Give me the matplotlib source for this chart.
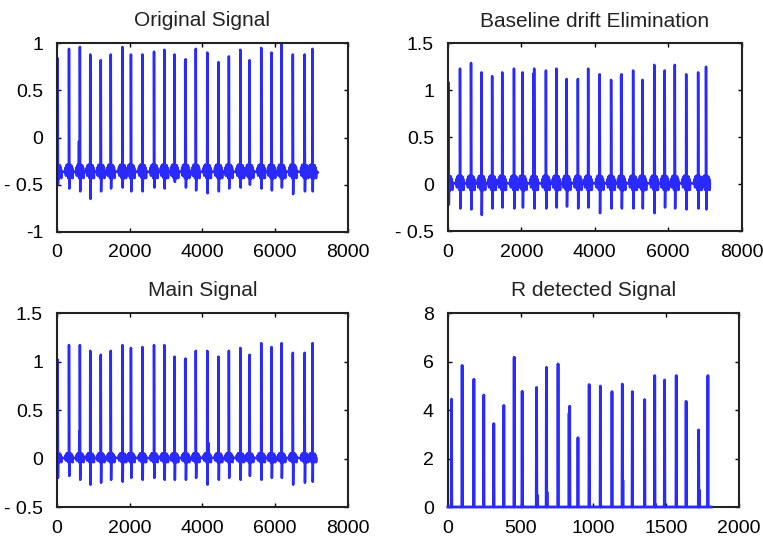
import numpy as np
import matplotlib.pyplot as plt

plt.rcParams['font.family'] = ['Liberation Sans', 'DejaVu Sans']

# R peak sample positions (same recording in the three ECG panels)
r_pos = [18, 330, 630, 915, 1205, 1480, 1800, 2035, 2350, 2670, 2955, 3235, 3540,
         3820, 4135, 4445, 4730, 5045, 5300, 5620, 5905, 6180, 6490, 6815, 7030]

# Original Signal
orig_r = [0.84, 0.94, 0.96, 0.88, 0.82, 0.88, 0.96, 0.88, 0.88, 0.91, 0.93, 0.88, 0.83,
          0.94, 0.90, 0.80, 0.86, 0.93, 0.82, 0.95, 0.90, 1.00, 0.88, 0.88, 0.94]
orig_s = [-0.50, -0.54, -0.57, -0.65, -0.57, -0.54, -0.53, -0.57, -0.57, -0.53, -0.54, -0.47, -0.53,
          -0.56, -0.59, -0.57, -0.54, -0.53, -0.50, -0.54, -0.56, -0.53, -0.60, -0.57, -0.57]
orig_extra = [(605, -0.04), (3528, 0.80)]

# Baseline drift Elimination
drift_r = [1.08, 1.23, 1.29, 1.19, 1.15, 1.19, 1.23, 1.19, 1.23, 1.21, 1.23, 1.12, 1.12,
           1.23, 1.17, 1.11, 1.17, 1.21, 1.11, 1.27, 1.21, 1.27, 1.17, 1.19, 1.25]
drift_s = [-0.22, -0.26, -0.27, -0.33, -0.26, -0.25, -0.26, -0.25, -0.26, -0.26, -0.25, -0.24, -0.26,
           -0.25, -0.31, -0.26, -0.26, -0.26, -0.26, -0.31, -0.25, -0.26, -0.27, -0.26, -0.27]
drift_extra = [(5635, 0.22), (2338, 1.18), (4718, 1.15)]

# Main Signal
main_r = [1.02, 1.17, 1.17, 1.11, 1.07, 1.11, 1.17, 1.14, 1.15, 1.17, 1.17, 1.05, 1.03,
          1.11, 1.11, 1.05, 1.11, 1.14, 1.07, 1.19, 1.15, 1.19, 1.09, 1.09, 1.19]
main_s = [-0.20, -0.18, -0.22, -0.27, -0.25, -0.22, -0.24, -0.20, -0.22, -0.20, -0.22, -0.22, -0.22,
          -0.20, -0.27, -0.22, -0.20, -0.22, -0.18, -0.22, -0.20, -0.20, -0.27, -0.25, -0.24]
main_extra = [(614, 0.28), (4170, 0.16), (3528, 1.02)]

# baseline wiggle around each beat (offset from R, relative level)
wig_off = [-110, -96, -84, -70, -58, -46, -34, -22, -12, 18, 28, 38, 50, 62, 74, 88, 100, 112]
wig_val = [0.0, 0.6, -0.4, 0.9, -0.2, 1.0, 0.3, -0.7, 0.4, 1.0, -0.8, 0.6, -0.5, 0.9, -0.3, 0.6, -0.7, 0.2]

# R detected Signal
rd_x = [25, 98, 179, 247, 316, 385, 456, 511, 610, 678, 758, 838, 895,
        972, 1049, 1129, 1200, 1269, 1354, 1423, 1491, 1571, 1639, 1725, 1789]
rd_h = [4.45, 5.84, 5.27, 4.62, 3.44, 4.19, 6.18, 4.77, 4.93, 5.76, 5.90, 4.16, 2.86,
        5.05, 4.99, 4.76, 5.07, 4.76, 4.43, 5.42, 5.24, 5.42, 4.36, 3.18, 5.42]
rd_small = [(614, 0.5), (682, 0.62), (834, 3.87), (1204, 1.11), (1729, 0.70),
            (1427, 0.12), (515, 0.06), (1053, 0.04)]
rd_end = 1812


def ecg_trace(r_h, s_d, base, amp, extra, end):
    pts = [(0, base), (end, base)]
    for r, h, s in zip(r_pos, r_h, s_d):
        pts += [(r - 4, base), (r, h), (r + 9, s)]
        pts += [(r + o, base + amp * v) for o, v in zip(wig_off, wig_val)]
    for x, y in extra:
        pts += [(x - 5, base), (x, y), (x + 5, base)]
    pts = sorted(p for p in pts if 0 <= p[0] <= end)
    return [p[0] for p in pts], [p[1] for p in pts]


def style(ax, xlim, ylim, xticks, yticks, ylabels, title):
    ax.set_xlim(xlim)
    ax.set_ylim(ylim)
    ax.set_xticks(xticks)
    ax.set_yticks(yticks)
    ax.set_yticklabels(ylabels)
    ax.tick_params(direction='in', top=True, right=True, length=3, width=1,
                   labelsize=14)
    ax.tick_params(axis='x', pad=9)
    ax.tick_params(axis='y', pad=10)
    for sp in ax.spines.values():
        sp.set_linewidth(1.5)
        sp.set_color('#222222')
    ax.set_title(title, fontsize=15, pad=12, color='#222222')


fig = plt.figure(figsize=(7.63, 5.38), dpi=100)
ax1 = fig.add_axes([0.0747, 0.5688, 0.381, 0.351])
ax2 = fig.add_axes([0.587, 0.5706, 0.385, 0.349])
ax3 = fig.add_axes([0.0747, 0.0576, 0.381, 0.3606])
ax4 = fig.add_axes([0.587, 0.0576, 0.381, 0.3606])

col = '#2a2aff'

x, y = ecg_trace(orig_r, orig_s, -0.37, 0.085, orig_extra, 7177)
ax1.plot(x, y, color=col, lw=1.8)
style(ax1, (0, 8000), (-1, 1), [0, 2000, 4000, 6000, 8000],
      [-1, -0.5, 0, 0.5, 1], ['-1', '- 0.5', '0', '0.5', '1'], 'Original Signal')

x, y = ecg_trace(drift_r, drift_s, 0.0, 0.09, drift_extra, 7136)
ax2.plot(x, y, color=col, lw=1.8)
style(ax2, (0, 8000), (-0.5, 1.5), [0, 2000, 4000, 6000, 8000],
      [-0.5, 0, 0.5, 1, 1.5], ['- 0.5', '0', '0.5', '1', '1.5'], 'Baseline drift Elimination')

x, y = ecg_trace(main_r, main_s, 0.0, 0.055, main_extra, 7140)
ax3.plot(x, y, color=col, lw=1.8)
style(ax3, (0, 8000), (-0.5, 1.5), [0, 2000, 4000, 6000, 8000],
      [-0.5, 0, 0.5, 1, 1.5], ['- 0.5', '0', '0.5', '1', '1.5'], 'Main Signal')

pts = [(0, 0), (rd_end, 0)]
for sx, sh in list(zip(rd_x, rd_h)) + rd_small:
    pts += [(sx - 2, 0), (sx, sh), (sx + 2, 0)]
pts = sorted(pts)
ax4.plot([p[0] for p in pts], [p[1] for p in pts], color=col, lw=2.0,
         clip_on=False, zorder=3)
style(ax4, (0, 2000), (0, 8), [0, 500, 1000, 1500, 2000],
      [0, 2, 4, 6, 8], ['0', '2', '4', '6', '8'], 'R detected Signal')

fig.savefig('out.png', dpi=100)
